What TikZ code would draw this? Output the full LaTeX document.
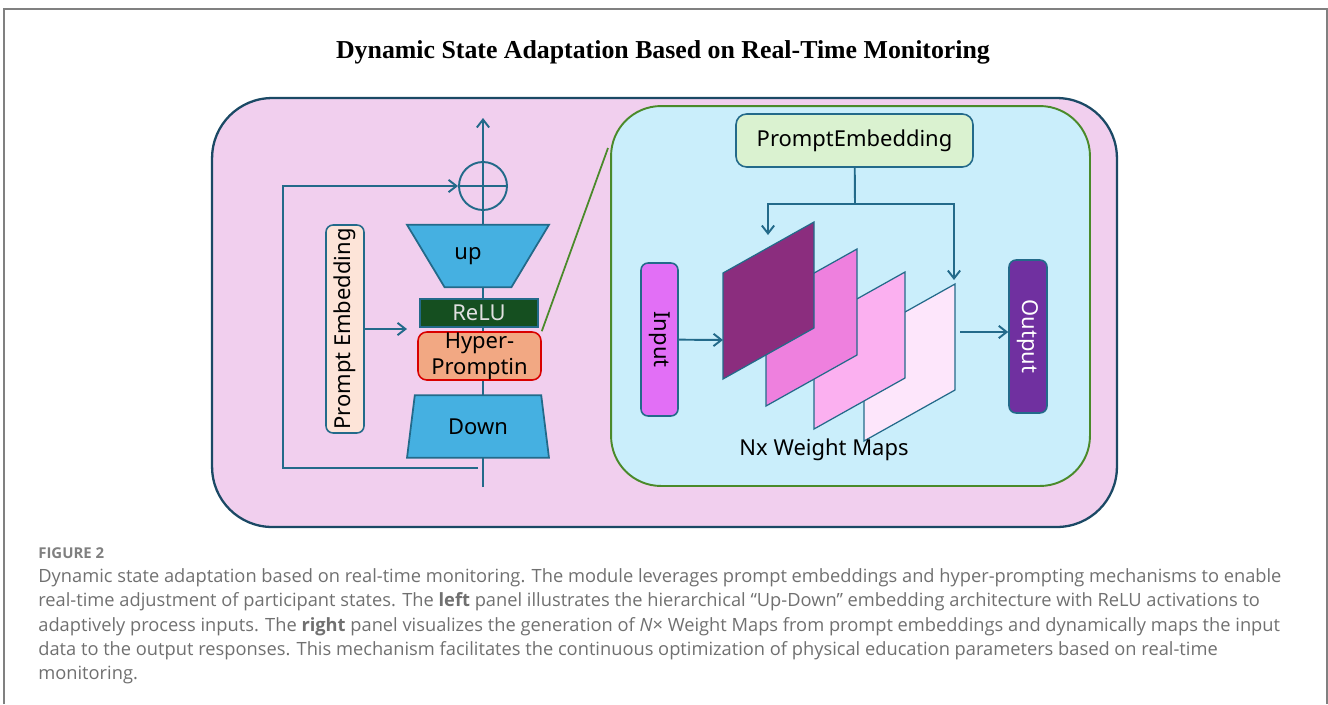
\documentclass[tikz,border=0pt]{standalone}
\usepackage{fontspec}
\setmainfont{Noto Sans}
\newfontfamily\titlefont{Liberation Serif}
\newfontfamily\capfont{Open Sans}
\usetikzlibrary{positioning,calc,shapes.geometric,arrows.meta}

\definecolor{pinkbg}{HTML}{F1CFEE}
\definecolor{outerc}{HTML}{1B4965}
\definecolor{flowc}{HTML}{236A8A}
\definecolor{panelbg}{HTML}{CAEEFB}
\definecolor{panelc}{HTML}{4A8A2A}
\definecolor{updown}{HTML}{45B0E1}
\definecolor{reluc}{HTML}{154F20}
\definecolor{hyperc}{HTML}{F2A883}
\definecolor{peleft}{HTML}{FDE4D8}
\definecolor{peright}{HTML}{DAF2D0}
\definecolor{inputc}{HTML}{E26FF6}
\definecolor{outputc}{HTML}{7030A0}
\definecolor{map1}{HTML}{8B2D7E}
\definecolor{map2}{HTML}{EE80DE}
\definecolor{map3}{HTML}{FBB0F0}
\definecolor{map4}{HTML}{FDE6FB}
\definecolor{framec}{HTML}{808080}
\definecolor{capc}{HTML}{707070}

\tikzset{
  flow/.style={draw=flowc, line width=1.1pt},
  lbl/.style={font=\fontsize{12.5}{15}\selectfont},
  box/.style={draw=flowc, line width=0.9pt, rounded corners=3pt, inner sep=0pt, lbl},
  trap/.style={trapezium, trapezium stretches=true, trapezium left angle=77, trapezium right angle=77,
    draw=flowc, fill=updown, line width=1pt, minimum width=2.84cm, minimum height=1.25cm, inner sep=0pt, lbl},
  mapedge/.style={draw=flowc, line width=0.7pt},
  >={Straight Barb[length=4.5pt,width=7pt]}
}

\begin{document}
\begin{tikzpicture}[x=0.02cm, y=-0.02cm]
\useasboundingbox (0,0) rectangle (1328,704);
\draw[framec, line width=1.2pt] (4,704) -- (4,9) -- (1327,9) -- (1327,704);

\node[font=\titlefont\bfseries\fontsize{14.7}{17}\selectfont] (title) at (663,52) {Dynamic State Adaptation Based on Real-Time Monitoring};

\node[draw=outerc, fill=pinkbg, line width=1.3pt, rounded corners=1.2cm, minimum width=18.1cm, minimum height=8.58cm] (outer) at (664.5,312.5) {};

% left panel
\coordinate (in) at (483,487);
\coordinate (out) at (483,118);
\draw[flow,->] (in) -- (out);
\node[circle, draw=flowc, line width=1.1pt, minimum size=0.96cm, inner sep=0pt] (sum) at (483,186) {};
\draw[flow] (sum.west) -- (sum.east);
\node[trap, shape border rotate=180] (up) at (478,256) {\hspace*{-0.4cm}up};
\node[box, draw=flowc, fill=reluc, text=white!88!black, rounded corners=0pt, minimum width=2.36cm, minimum height=0.56cm] (relu) at (479,313) {ReLU};
\node[box, draw=red!85!black, fill=hyperc, align=center, minimum width=2.46cm, minimum height=0.96cm, rounded corners=5pt] (hyper) at (479.5,356) {Hyper-\\Promptin};
\node[trap] (down) at (478,426.5) {Down};
\coordinate (skip) at (478,468);
\draw[flow,->] (skip) -- (283,468) |- (sum.west);

\node[box, fill=peleft, rotate=90, minimum width=4.16cm, minimum height=0.76cm, rounded corners=4pt] (pe) at (345,329) {Prompt Embedding};
\coordinate (peTip) at (407,329);
\draw[flow,->] (pe.south) -- (peTip);

% right panel
\node[draw=panelc, fill=panelbg, line width=1.1pt, rounded corners=1cm, minimum width=9.58cm, minimum height=7.6cm] (panel) at (850.5,296) {};
\coordinate (zoomend) at (608,148);
\draw[panelc, line width=1pt] (hyper.north east) -- (zoomend);

\node[box, fill=peright, minimum width=4.74cm, minimum height=1.06cm, rounded corners=6pt] (pe2) at (854.5,140.5) {PromptEmbedding};
\coordinate (split) at (855,204);
\coordinate (w1top) at (768,235);
\coordinate (w4top) at (954,280);
\draw[flow] (pe2) -- (split);
\draw[flow,->] (split) -| (w1top);
\draw[flow,->] (split) -| (w4top);

\foreach \mx/\my/\mc in {864/335/map4, 814/323/map3, 766/300/map2, 723/273/map1}
  \draw[mapedge, fill=\mc] (\mx,\my) -- ++(91,-51) -- ++(0,106) -- ++(-91,51) -- cycle;

\node[box, fill=inputc, rotate=-90, minimum width=3.06cm, minimum height=0.74cm, rounded corners=4pt] (input) at (659.5,339.5) {Input};
\node[box, fill=outputc, text=white, rotate=-90, minimum width=3.06cm, minimum height=0.76cm, rounded corners=4pt] (output) at (1028,336.5) {Output};
\coordinate (wm1) at (723,340);
\coordinate (wm4) at (960,332);
\draw[flow,->] (input) -- (wm1);
\draw[flow,->] (wm4) -- (wm4 -| output.south);
\node[lbl] (maps) at (824,450) {Nx Weight Maps};

% caption
\node[anchor=west, inner sep=0pt, text=framec, font=\capfont\bfseries\fontsize{8.5}{10}\selectfont] (fig) at (38,553) {FIGURE 2};
\node[anchor=north west, align=left, inner sep=0pt, text=capc, font=\capfont\fontsize{10.4}{13.9}\selectfont] (cap) at (38,568) {Dynamic state adaptation based on real-time monitoring. The module leverages prompt embeddings and hyper-prompting mechanisms to enable\\
real-time adjustment of participant states. The \textbf{left} panel illustrates the hierarchical “Up-Down” embedding architecture with ReLU activations to\\
adaptively process inputs. The \textbf{right} panel visualizes the generation of \textit{N}× Weight Maps from prompt embeddings and dynamically maps the input\\
data to the output responses. This mechanism facilitates the continuous optimization of physical education parameters based on real-time\\
monitoring.};
\end{tikzpicture}
\end{document}
